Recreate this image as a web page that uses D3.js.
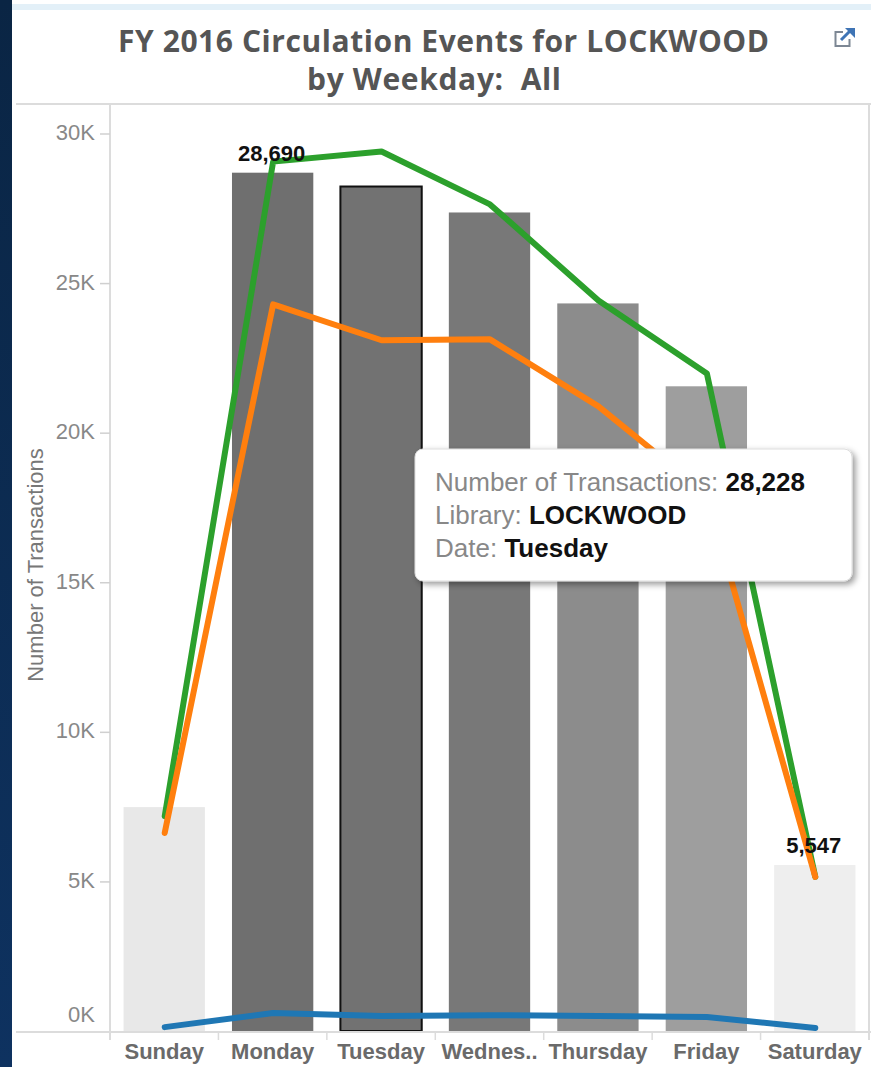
<!DOCTYPE html>
<html>
<head>
<meta charset="utf-8">
<script src="https://cdn.jsdelivr.net/npm/d3@7"></script>
<style>
  html, body { margin: 0; padding: 0; background: #fff; }
  svg { display: block; }
  .tick-label { font-family: "Liberation Sans", Arial, sans-serif; }
</style>
</head>
<body>
<div id="chart"></div>
<script>
var days = ["Sunday", "Monday", "Tuesday", "Wednesday", "Thursday", "Friday", "Saturday"];
var dayLabels = ["Sunday", "Monday", "Tuesday", "Wednes..", "Thursday", "Friday", "Saturday"];
var barValues = [7484, 28690, 28228, 27360, 24320, 21550, 5547];
var greenValues = [7180, 29060, 29400, 27630, 24420, 21980, 5150];
var orangeValues = [6620, 24290, 23090, 23120, 20880, 17940, 5150];
var blueValues = [130, 600, 500, 530, 500, 470, 100];
var yTicks = [0, 5000, 10000, 15000, 20000, 25000, 30000];
var labelledDays = ["Monday", "Saturday"];
var selectedDay = "Tuesday";

var svgWidth = 871;
var svgHeight = 1067;

var plot = { left: 110, right: 869, top: 104, bottom: 1032 };

var svg = d3.select("#chart")
  .append("svg")
  .attr("width", svgWidth)
  .attr("height", svgHeight);

var defs = svg.append("defs");

var navy = defs.append("linearGradient")
  .attr("id", "navy")
  .attr("x1", 0).attr("y1", 0)
  .attr("x2", 0).attr("y2", 1);
navy.append("stop").attr("offset", "0%").attr("stop-color", "#0a2544");
navy.append("stop").attr("offset", "100%").attr("stop-color", "#0e3260");

var shadow = defs.append("filter")
  .attr("id", "tipShadow")
  .attr("x", "-5%").attr("y", "-10%")
  .attr("width", "110%").attr("height", "125%");
shadow.append("feDropShadow")
  .attr("dx", 3).attr("dy", 3)
  .attr("stdDeviation", 3)
  .attr("flood-color", "#000")
  .attr("flood-opacity", 0.4);

// page furniture
svg.append("rect")
  .attr("width", 12)
  .attr("height", svgHeight)
  .attr("fill", "url(#navy)");

svg.append("rect")
  .attr("x", 12)
  .attr("y", 4)
  .attr("width", svgWidth - 12)
  .attr("height", 6)
  .attr("fill", "#e3f0f8");

// title
var title = svg.append("g")
  .attr("text-anchor", "middle")
  .attr("font-family", "'Open Sans', 'Noto Sans', sans-serif")
  .attr("font-weight", 700)
  .attr("font-size", 30)
  .attr("fill", "#555");

title.append("text")
  .attr("x", 443.5)
  .attr("y", 52)
  .attr("textLength", 651)
  .text("FY 2016 Circulation Events for LOCKWOOD");

title.append("text")
  .attr("x", 434)
  .attr("y", 90)
  .attr("textLength", 254)
  .style("white-space", "pre")
  .text("by Weekday:  All");

// external link icon
var icon = svg.append("g")
  .attr("transform", "translate(834, 28)")
  .attr("fill", "none");
icon.append("path")
  .attr("d", "M9 4H1.5V18H15.5V11")
  .attr("stroke", "#7d8794")
  .attr("stroke-width", 2);
icon.append("path")
  .attr("d", "M7 12L16 3")
  .attr("stroke", "#3f74b5")
  .attr("stroke-width", 3);
icon.append("path")
  .attr("d", "M11 0H21V10Z")
  .attr("fill", "#3f74b5");

// scales
var x = d3.scaleBand()
  .domain(days)
  .range([plot.left, plot.right])
  .paddingInner(0.25)
  .paddingOuter(0.125);

var y = d3.scaleLinear()
  .domain([0, 30000])
  .range([1031, 133.5]);

var barColor = d3.scaleLinear()
  .domain([5547, 7484, 21550, 28690])
  .range(["#eeeeee", "#e8e8e8", "#9e9e9e", "#6f6f6f"]);

// frame
var frameColor = "#dcdcdc";
svg.append("line")
  .attr("x1", 16).attr("x2", svgWidth)
  .attr("y1", plot.top).attr("y2", plot.top)
  .attr("stroke", frameColor).attr("stroke-width", 2);
svg.append("line")
  .attr("x1", plot.right).attr("x2", plot.right)
  .attr("y1", plot.top).attr("y2", 1040)
  .attr("stroke", frameColor).attr("stroke-width", 2);

// bars
svg.selectAll(".bar")
  .data(days)
  .enter()
  .append("rect")
  .attr("class", "bar")
  .attr("x", d => x(d))
  .attr("y", (d, i) => y(barValues[i]))
  .attr("width", x.bandwidth())
  .attr("height", (d, i) => y(0) - y(barValues[i]))
  .attr("fill", (d, i) => barColor(barValues[i]))
  .attr("stroke", d => d === selectedDay ? "#111" : "none")
  .attr("stroke-width", 2);

// axes
var leftAxis = d3.axisLeft(y)
  .tickValues(yTicks)
  .tickFormat(d => (d / 1000) + "K")
  .tickSize(10)
  .tickPadding(5);

var yAxis = svg.append("g")
  .attr("transform", `translate(${plot.left}, 0)`)
  .call(leftAxis);

yAxis.select(".domain")
  .attr("d", `M0,${plot.top}V1040`)
  .attr("stroke", frameColor)
  .attr("stroke-width", 2);
yAxis.selectAll(".tick line").attr("stroke", "#d0d0d0").attr("stroke-width", 1.5);
yAxis.selectAll(".tick text")
  .attr("class", "tick-label")
  .attr("font-size", 22)
  .attr("fill", "#888")
  .attr("dy", "0.27em");

// the zero label sits above the baseline and has no tick
yAxis.selectAll(".tick")
  .filter(d => d === 0)
  .call(t => t.select("line").remove())
  .call(t => t.select("text").attr("y", -15));

var bottomAxis = d3.axisBottom(x)
  .tickFormat((d, i) => dayLabels[i])
  .tickSize(0)
  .tickPadding(11);

var xAxis = svg.append("g")
  .attr("transform", `translate(0, ${plot.bottom})`)
  .call(bottomAxis);

xAxis.select(".domain")
  .attr("d", `M16,0H${svgWidth}`)
  .attr("stroke", frameColor)
  .attr("stroke-width", 2);
xAxis.selectAll(".tick text")
  .attr("class", "tick-label")
  .attr("font-size", 22)
  .attr("font-weight", 700)
  .attr("fill", "#6a6a6a");

// separators between the weekdays
xAxis.selectAll(".separator")
  .data(days.slice(1))
  .enter()
  .append("line")
  .attr("class", "separator")
  .attr("x1", d => x(d) - x.step() * x.paddingInner() / 2)
  .attr("x2", d => x(d) - x.step() * x.paddingInner() / 2)
  .attr("y1", 0)
  .attr("y2", 8)
  .attr("stroke", frameColor)
  .attr("stroke-width", 1.5);

svg.append("text")
  .attr("class", "tick-label")
  .attr("transform", "translate(43, 565) rotate(-90)")
  .attr("text-anchor", "middle")
  .attr("font-size", 22)
  .attr("fill", "#777")
  .text("Number of Transactions");

// lines
var line = d3.line()
  .x((d, i) => x(days[i]) + x.bandwidth() / 2 + 0.5)
  .y(d => y(d));

var series = [
  { values: greenValues, color: "#2ca02c" },
  { values: orangeValues, color: "#ff7f0e" },
  { values: blueValues, color: "#1f77b4" }
];

svg.selectAll(".series")
  .data(series)
  .enter()
  .append("path")
  .attr("class", "series")
  .attr("d", d => line(d.values))
  .attr("fill", "none")
  .attr("stroke", d => d.color)
  .attr("stroke-width", 6)
  .attr("stroke-linejoin", "round")
  .attr("stroke-linecap", "round");

// value labels
svg.selectAll(".value-label")
  .data(labelledDays)
  .enter()
  .append("text")
  .attr("class", "value-label tick-label")
  .attr("x", d => x(d) + x.bandwidth() / 2 - 1)
  .attr("y", d => y(barValues[days.indexOf(d)]) - 12)
  .attr("text-anchor", "middle")
  .attr("font-size", 22)
  .attr("font-weight", 700)
  .attr("fill", "#111")
  .text(d => d3.format(",")(barValues[days.indexOf(d)]));

// tooltip
var tip = svg.append("g").attr("transform", "translate(415, 449)");

tip.append("rect")
  .attr("width", 437)
  .attr("height", 132)
  .attr("rx", 8)
  .attr("fill", "#fff")
  .attr("stroke", "#ddd")
  .attr("filter", "url(#tipShadow)");

var tipRows = [
  ["Number of Transactions: ", d3.format(",")(barValues[days.indexOf(selectedDay)])],
  ["Library: ", "LOCKWOOD"],
  ["Date: ", selectedDay]
];

var tipText = tip.selectAll(".tip-row")
  .data(tipRows)
  .enter()
  .append("text")
  .attr("class", "tip-row tick-label")
  .attr("x", 20)
  .attr("y", (d, i) => 42 + i * 33)
  .attr("font-size", 26)
  .style("white-space", "pre");

tipText.append("tspan")
  .attr("fill", "#888")
  .text(d => d[0]);

tipText.append("tspan")
  .attr("fill", "#111")
  .attr("font-weight", 700)
  .text(d => d[1]);
</script>
</body>
</html>
